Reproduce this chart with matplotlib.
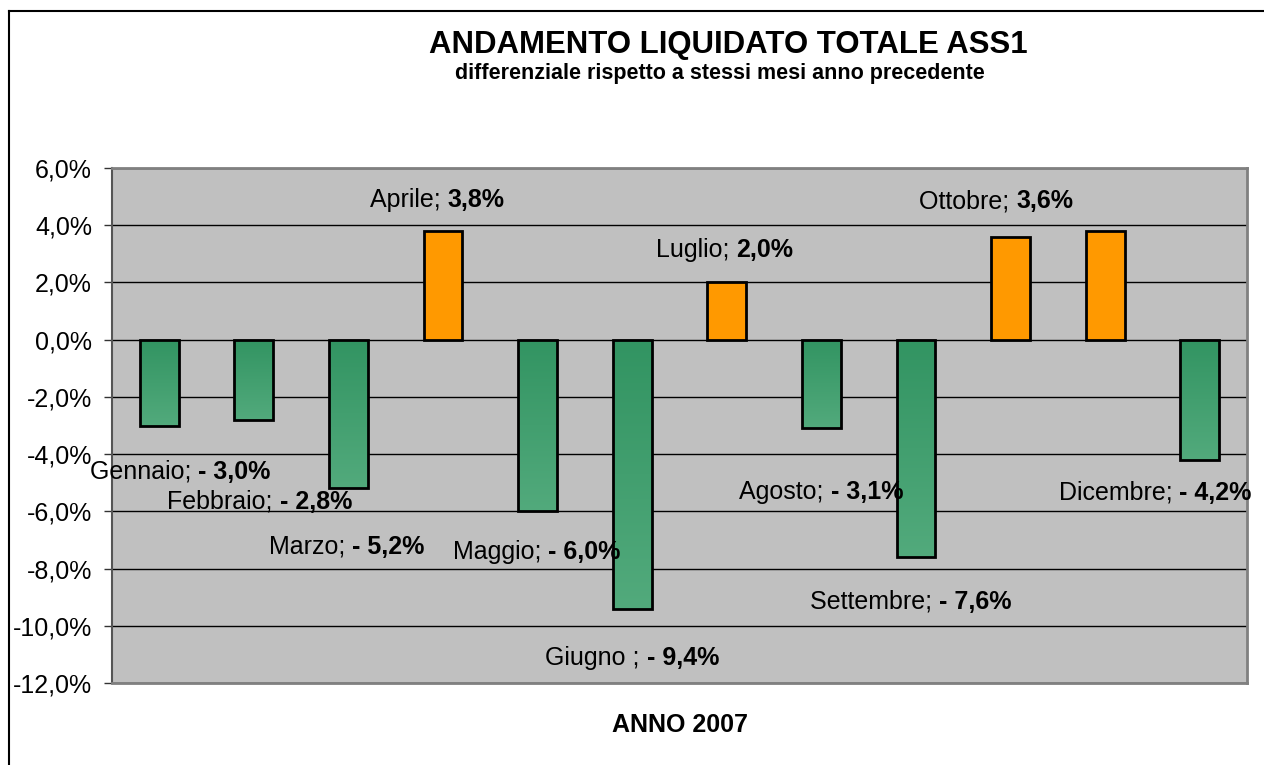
import numpy as np
import matplotlib
matplotlib.use("Agg")
import matplotlib.pyplot as plt
from matplotlib.lines import Line2D

plt.rcParams['font.family'] = ['Liberation Sans', 'DejaVu Sans']

# data
mesi = ['Gennaio', 'Febbraio', 'Marzo', 'Aprile', 'Maggio', 'Giugno',
        'Luglio', 'Agosto', 'Settembre', 'Ottobre', 'Novembre', 'Dicembre']
valori = [-3.0, -2.8, -5.2, 3.8, -6.0, -9.4, 2.0, -3.1, -7.6, 3.6, 3.8, -4.2]
etichette = ['Gennaio; ', 'Febbraio; ', 'Marzo; ', 'Aprile; ', 'Maggio; ', 'Giugno ; ',
             'Luglio; ', 'Agosto; ', 'Settembre; ', 'Ottobre; ', None, 'Dicembre; ']
yticks = [6, 4, 2, 0, -2, -4, -6, -8, -10, -12]

# where the data labels sit (x index, y in %), as in the original chart
label_pos = [(0.22, -4.62), (1.06, -5.66), (1.98, -7.24), (2.94, 4.88), (3.99, -7.41),
             (5.0, -11.12), (5.98, 3.13), (7.0, -5.31), (7.95, -9.16), (8.85, 4.83),
             None, (10.53, -5.35)]

W, H = 1264, 765
fig = plt.figure(figsize=(W / 100, H / 100), dpi=100)
ax = fig.add_axes([112 / W, 1 - 683 / H, (1247 - 112) / W, (683 - 168) / H])
ax.set_facecolor('#C0C0C0')

x = np.arange(len(valori))
fs = 18
green_top = np.array([50, 148, 98]) / 255
green_bot = np.array([82, 170, 124]) / 255
grad = np.linspace(0, 1, 100)[:, None, None]
grad_img = green_top * (1 - grad) + green_bot * grad

ax.set_axisbelow(True)
ax.yaxis.grid(True, color='black', linewidth=1)
for i, v in enumerate(valori):
    if v >= 0:
        ax.bar(x[i], v, width=0.41, color='#FF9900', edgecolor='black', linewidth=2, zorder=3)
    else:
        b = ax.bar(x[i], v, width=0.41, color='none', edgecolor='black', linewidth=2, zorder=4)[0]
        im = ax.imshow(grad_img, extent=(x[i] - 0.205, x[i] + 0.205, v, 0), aspect='auto',
                       origin='upper', zorder=3)
        im.set_clip_path(b)

ax.set_xlim(-0.5, 11.5)
ax.set_ylim(-12, 6)
ax.set_yticks(yticks)
ax.set_yticklabels([f"{t:.1f}%".replace('.', ',') for t in yticks], fontsize=fs)
ax.set_xticks([])
ax.tick_params(axis='y', length=5.8, width=1, color='#333333', pad=8.6)
for s in ['top', 'right', 'bottom']:
    ax.spines[s].set_color('#808080')
    ax.spines[s].set_linewidth(2)
ax.spines['left'].set_color('#555555')
ax.spines['left'].set_linewidth(1.5)

# data labels: regular month name + bold value, centred together
fig.canvas.draw()
r = fig.canvas.get_renderer()
for i, lab in enumerate(etichette):
    if lab is None:
        continue
    v = valori[i]
    val = (f"- {abs(v):.1f}%" if v < 0 else f"{v:.1f}%").replace('.', ',')
    lx, ly = label_pos[i]
    t1 = ax.text(lx, ly, lab, fontsize=fs, ha='left', va='center', zorder=6)
    t2 = ax.text(lx, ly, val, fontsize=fs, fontweight='bold', ha='left', va='center', zorder=6)
    w1 = t1.get_window_extent(r).width
    w2 = t2.get_window_extent(r).width
    cx, cy = ax.transData.transform((lx, ly))
    inv = ax.transData.inverted()
    t1.set_position(inv.transform((cx - (w1 + w2) / 2, cy)))
    t2.set_position(inv.transform((cx - (w1 + w2) / 2 + w1, cy)))

fig.text(728 / W, 1 - 45 / H, 'ANDAMENTO LIQUIDATO TOTALE ASS1', fontsize=22.4,
         fontweight='bold', ha='center', va='center')
fig.text(720 / W, 1 - 74 / H, 'differenziale rispetto a stessi mesi anno precedente',
         fontsize=15.5, fontweight='bold', ha='center', va='center')
fig.text(680 / W, 1 - 725 / H, 'ANNO 2007', fontsize=fs, fontweight='bold',
         ha='center', va='center')

# outer chart frame (cut at the right and bottom)
fig.add_artist(Line2D([9 / W, 1], [1 - 11 / H, 1 - 11 / H], transform=fig.transFigure,
                      color='black', linewidth=1.5))
fig.add_artist(Line2D([9 / W, 9 / W], [1 - 11 / H, 0], transform=fig.transFigure,
                      color='black', linewidth=1.5))

fig.savefig('out.png', dpi=100)
